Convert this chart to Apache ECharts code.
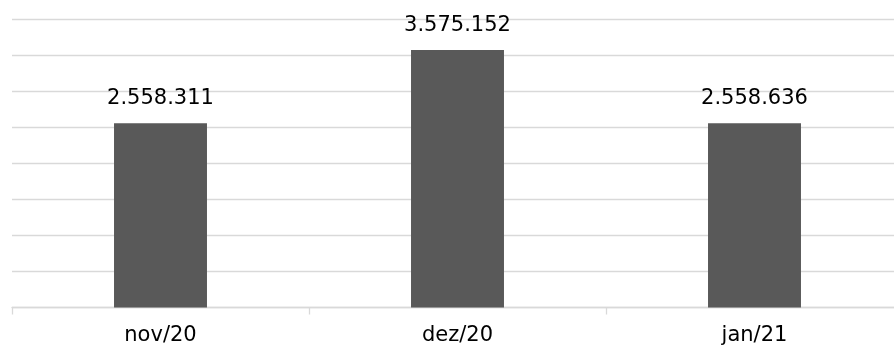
<!DOCTYPE html>
<html>
<head>
<meta charset="utf-8">
<script src="https://cdn.jsdelivr.net/npm/echarts@6/dist/echarts.min.js"></script>
<style>html,body{margin:0;padding:0;background:#fff}#c{width:894px;height:347px}</style>
</head>
<body>
<div id="c"></div>
<script>
const categories = ["nov/20", "dez/20", "jan/21"];
const values = [2558311, 3575152, 2558636];

function fmt(v) {
  return String(v).replace(/\B(?=(\d{3})+(?!\d))/g, ".");
}

const chart = echarts.init(document.getElementById('c'), null, {renderer: 'canvas'});
chart.setOption({
  animation: false,
  backgroundColor: '#ffffff',
  grid: {left: 12, top: 19.5, width: 891, height: 288, containLabel: false, outerBoundsMode: 'none'},
  xAxis: {
    type: 'category',
    data: categories,
    axisLine: {show: true, lineStyle: {color: '#d9d9d9', width: 1.3}},
    axisTick: {show: true, length: 7, lineStyle: {color: '#d9d9d9', width: 1.3}},
    axisLabel: {color: '#000000', fontFamily: 'DejaVu Sans', fontSize: 21, margin: 18}
  },
  yAxis: {
    type: 'value',
    min: 0, max: 4000000, interval: 500000,
    axisLabel: {show: false},
    axisLine: {show: false},
    axisTick: {show: false},
    splitLine: {show: true, lineStyle: {color: '#d9d9d9', width: 1.3}}
  },
  series: [{
    type: 'bar',
    data: values,
    barWidth: '31.3%',
    itemStyle: {color: '#595959'},
    label: {
      show: true, position: 'top', distance: 14,
      color: '#000000', fontFamily: 'DejaVu Sans', fontSize: 21,
      formatter: p => fmt(p.value)
    }
  }]
});
</script>
</body>
</html>
